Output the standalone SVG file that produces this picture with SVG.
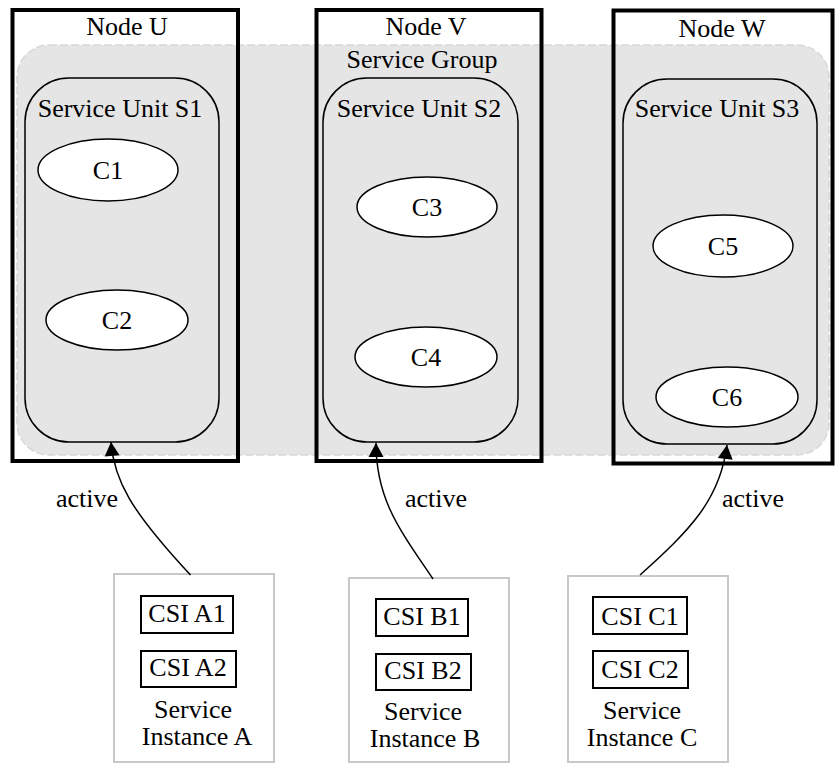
<svg xmlns="http://www.w3.org/2000/svg" width="835" height="764" viewBox="0 0 835 764">
<style>
text{font-family:"Liberation Serif","Times New Roman",serif;font-size:26px;fill:#000;text-anchor:middle}
.node{fill:none;stroke:#000;stroke-width:4}
.su{fill:none;stroke:#000;stroke-width:1.5}
.comp{fill:#fff;stroke:#000;stroke-width:1.5}
.si{fill:#fff;stroke:#c8c8c8;stroke-width:2}
.csi{fill:#fff;stroke:#000;stroke-width:2}
.edge{fill:none;stroke:#000;stroke-width:1.5}
</style>
<defs>
<marker id="arr" markerUnits="userSpaceOnUse" markerWidth="16" markerHeight="18" viewBox="-15 -9 16 18" refX="0" refY="0" orient="auto">
<path d="M0,0 L-14,-7.5 L-14,7.5 Z" fill="#000"/>
</marker>
</defs>
<rect width="835" height="764" fill="#fff"/>
<g id="service-group">
<rect x="17" y="45" width="812" height="410" rx="32" fill="#e5e5e5" stroke="#d8d8d8" stroke-width="1.5" stroke-dasharray="8 3"/>
<text x="422" y="68">Service Group</text>
</g>
<g id="node-u">
<rect class="node" x="12.5" y="10" width="225.5" height="451"/>
<text x="127" y="35">Node U</text>
</g>
<g id="node-v">
<rect class="node" x="316.5" y="10" width="225" height="451"/>
<text x="426" y="35">Node V</text>
</g>
<g id="node-w">
<rect class="node" x="613.5" y="10.5" width="219" height="453"/>
<text x="722" y="37">Node W</text>
</g>
<g id="su-s1">
<rect class="su" x="25" y="78" width="194" height="364" rx="44" ry="44"/>
<text x="120" y="117">Service Unit S1</text>
</g>
<g id="su-s2">
<rect class="su" x="323" y="78" width="195" height="364" rx="44" ry="44"/>
<text x="419" y="117">Service Unit S2</text>
</g>
<g id="su-s3">
<rect class="su" x="623" y="79" width="194" height="365" rx="44" ry="44"/>
<text x="717" y="117">Service Unit S3</text>
</g>
<g id="c1"><ellipse class="comp" cx="108" cy="170" rx="70" ry="31"/><text x="108" y="179">C1</text></g>
<g id="c2"><ellipse class="comp" cx="117" cy="320" rx="71" ry="30"/><text x="117" y="329">C2</text></g>
<g id="c3"><ellipse class="comp" cx="427" cy="207" rx="70" ry="30"/><text x="427" y="216">C3</text></g>
<g id="c4"><ellipse class="comp" cx="426" cy="357" rx="71" ry="30"/><text x="426" y="366">C4</text></g>
<g id="c5"><ellipse class="comp" cx="723" cy="246" rx="70" ry="31"/><text x="723" y="255">C5</text></g>
<g id="c6"><ellipse class="comp" cx="727" cy="397" rx="71" ry="30"/><text x="727" y="406">C6</text></g>
<g id="si-a">
<rect class="si" x="114" y="574" width="160" height="188"/>
<rect class="csi" x="141" y="596" width="92" height="37"/>
<text x="187" y="622">CSI A1</text>
<rect class="csi" x="141" y="651" width="95" height="36"/>
<text x="188" y="676">CSI A2</text>
<text x="193" y="718">Service</text>
<text x="197" y="745">Instance A</text>
</g>
<g id="si-b">
<rect class="si" x="349" y="578" width="160" height="184"/>
<rect class="csi" x="376" y="599" width="92" height="37"/>
<text x="422" y="625">CSI B1</text>
<rect class="csi" x="376" y="654" width="95" height="36"/>
<text x="423" y="679">CSI B2</text>
<text x="423" y="720">Service</text>
<text x="425" y="747">Instance B</text>
</g>
<g id="si-c">
<rect class="si" x="568" y="576" width="160" height="186"/>
<rect class="csi" x="593" y="597" width="94" height="37"/>
<text x="640" y="625">CSI C1</text>
<rect class="csi" x="593" y="651" width="95" height="37"/>
<text x="640" y="678">CSI C2</text>
<text x="642" y="719">Service</text>
<text x="642" y="746">Instance C</text>
</g>
<g id="connectors">
<path class="edge" d="M190.5,575 C130,510 114,480 111,442" marker-end="url(#arr)"/>
<text x="87" y="507">active</text>
<path class="edge" d="M433,579 C400,530 376,500 376,443" marker-end="url(#arr)"/>
<text x="436" y="507">active</text>
<path class="edge" d="M640,575 C690,530 720,500 727,445" marker-end="url(#arr)"/>
<text x="753" y="507">active</text>
</g>
</svg>
